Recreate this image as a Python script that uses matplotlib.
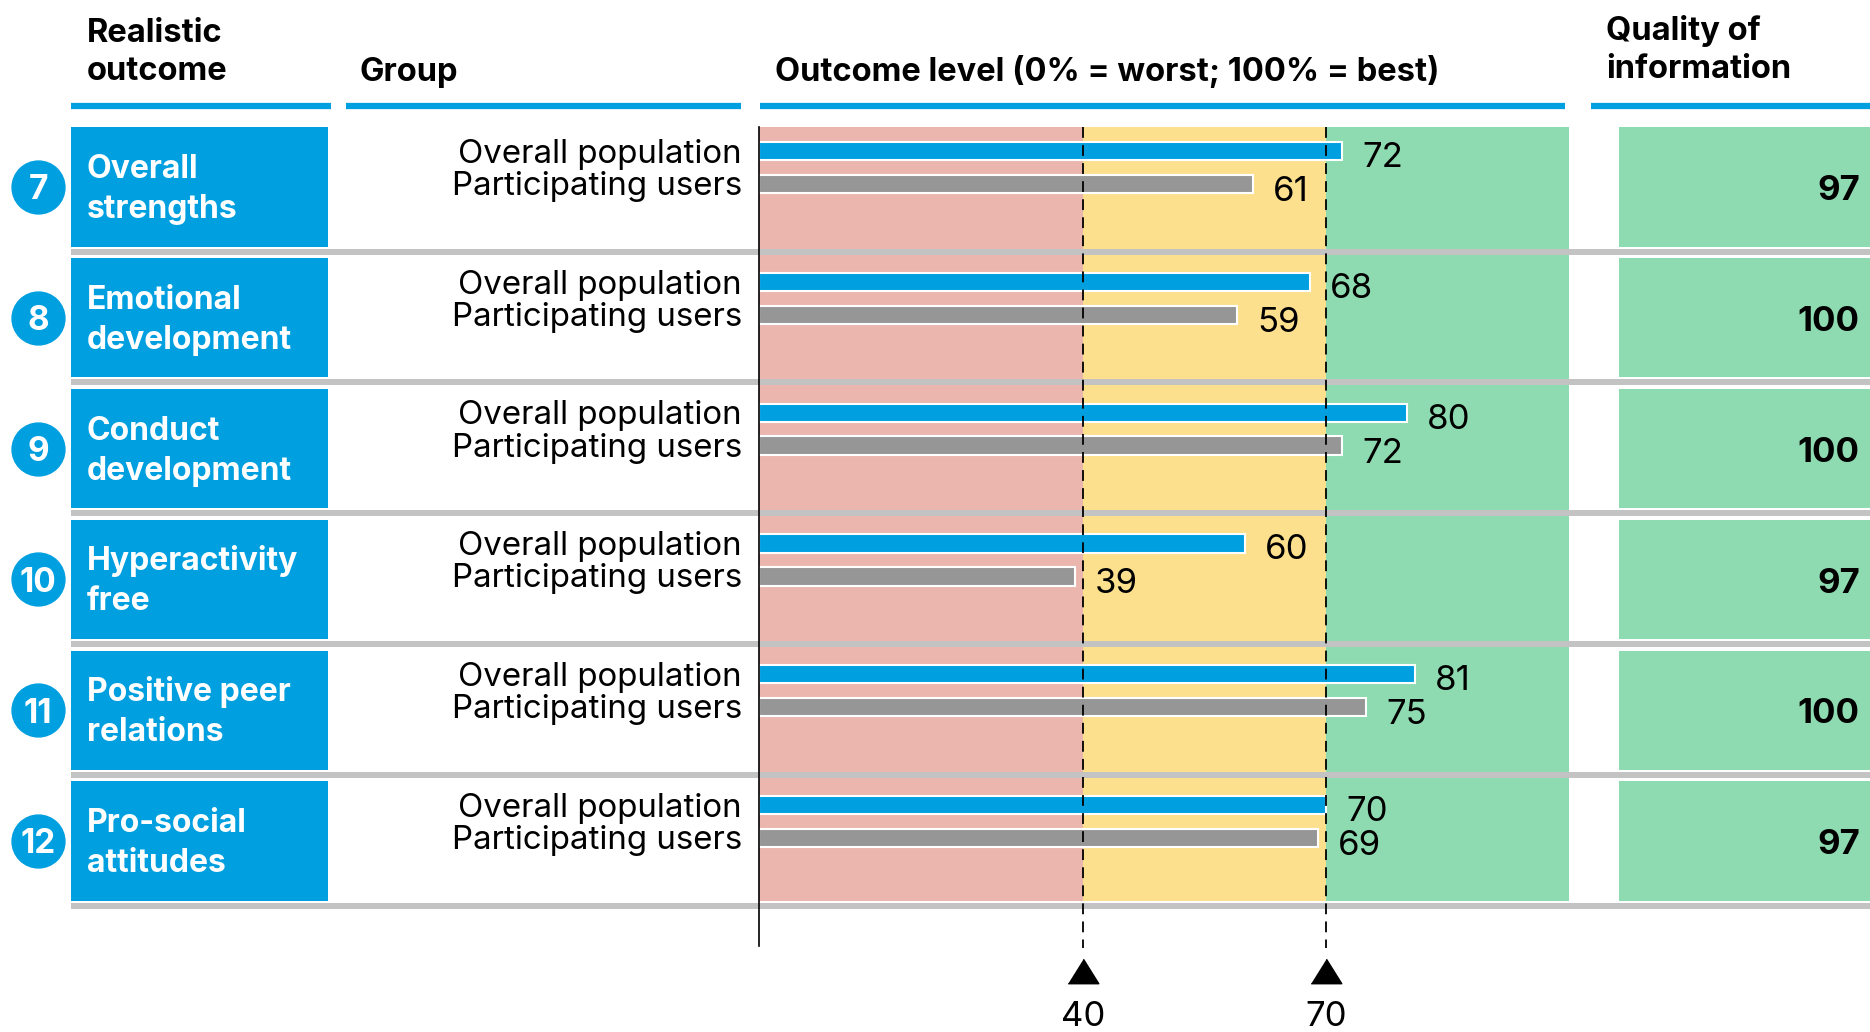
import numpy as np
import matplotlib.pyplot as plt

plt.rcParams['font.family'] = ['Inter', 'Roboto', 'DejaVu Sans']

# Outcome rows
numbers = [7, 8, 9, 10, 11, 12]
outcomes = ["Overall\nstrengths", "Emotional\ndevelopment", "Conduct\ndevelopment",
            "Hyperactivity\nfree", "Positive peer\nrelations", "Pro-social\nattitudes"]
groups = ["Overall population", "Participating users"]
overall = [72, 68, 80, 60, 81, 70]
participating = [61, 59, 72, 39, 75, 69]
quality = [97, 100, 100, 97, 100, 97]
thresholds = [40, 70]
zone_edges = [0, 40, 70, 100]

blue = '#009fe0'
grey_bar = '#969696'
sep_grey = '#c3c3c3'
zone_colors = ['#eab6ae', '#fde08e', '#8edbb1']

fig = plt.figure(figsize=(18.7, 10.32), dpi=100)
ax = fig.add_axes([0, 0, 1, 1])
ax.set_xlim(-93.7, 137.16)
ax.set_ylim(6.46, -1.43)
ax.axis('off')

rows = np.arange(len(outcomes))
half = 0.456
top, bottom = rows[0] - half, rows[-1] + half


def lines(x, baselines, text, **kw):
    # one text per line so each baseline sits where it should
    for y, s in zip(baselines, text.split('\n')):
        ax.text(x, y, s, va='baseline', **kw)


# coloured outcome zones behind the bars
for lo, hi, c in zip(zone_edges[:-1], zone_edges[1:], zone_colors):
    ax.barh((top + bottom) / 2, hi - lo, left=lo, height=bottom - top, color=c, zorder=0)

# header rules
for x0, x1 in [(-84.9, -52.8), (-51.0, -2.2), (0.1, 99.5), (102.7, 140)]:
    ax.plot([x0, x1], [-0.62, -0.62], color=blue, lw=4.5, solid_capstyle='butt')

hfont = dict(fontsize=23.5, fontweight='bold', color='black', ha='left')
lines(-83.0, [-1.111, -0.818], "Realistic\noutcome", **hfont)
lines(-49.3, [-0.81], "Group", **hfont)
lines(2.0, [-0.81], "Outcome level (0% = worst; 100% = best)", **hfont)
lines(104.6, [-1.123, -0.83], "Quality of\ninformation", **hfont)

# row separators
for r in rows:
    ax.plot([-84.9, 140], [r + 0.494, r + 0.494], color=sep_grey, lw=4.3,
            solid_capstyle='butt', zorder=1)

# outcome boxes, numbered circles and quality boxes
ax.barh(rows, 31.7, left=-84.9, height=2 * half, color=blue, zorder=2)
ax.barh(rows, 40, left=106.2, height=2 * half, color=zone_colors[2], zorder=2)
ax.scatter(np.full(len(rows), -89.0), rows, s=1450, color=blue, zorder=3)
for r, n, name, q in zip(rows, numbers, outcomes, quality):
    ax.text(-89.0, r + 0.095, str(n), color='white', fontsize=24, fontweight='bold',
            ha='center', va='baseline', zorder=4)
    lines(-83.0, [r - 0.069, r + 0.237], name, color='white', fontsize=23,
          fontweight='bold', ha='left', zorder=4)
    ax.text(135.9, r + 0.10, str(q), color='black', fontsize=25, fontweight='bold',
            ha='right', va='baseline', zorder=4)
    lines(-2.1, [r - 0.185, r + 0.061], "\n".join(groups), fontsize=23.8, ha='right')

# bars
y_over = rows - 0.275
y_part = rows - 0.023
ax.barh(y_over, overall, height=0.14, color=blue, edgecolor='white', lw=1.5, zorder=3)
ax.barh(y_part, participating, height=0.14, color=grey_bar, edgecolor='white', lw=1.5, zorder=3)
for r, vo, vp in zip(rows, overall, participating):
    ax.text(vo + 2.5, r - 0.153, str(vo), fontsize=25, ha='left', va='baseline')
    ax.text(vp + 2.5, r + 0.107, str(vp), fontsize=25, ha='left', va='baseline')

# zero axis and threshold markers
tri = [(-1, -0.8), (1, -0.8), (0, 0.8)]
ax.plot([0, 0], [top, 5.80], color='black', lw=1.2, zorder=4)
for t in thresholds:
    ax.plot([t, t], [top, 5.82], color='black', lw=1.3, ls=(0, (6, 4)), zorder=4)
    ax.plot(t, 5.99, marker=tri, markersize=22, color='black', clip_on=False)
    ax.text(t, 6.415, str(t), fontsize=25, ha='center', va='baseline')

fig.savefig('out.png', dpi=100)
